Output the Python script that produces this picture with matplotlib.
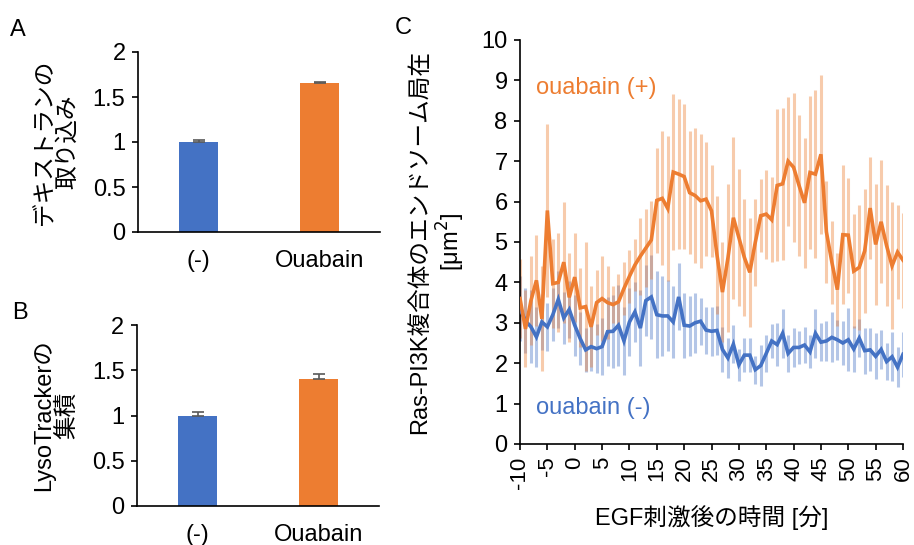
import matplotlib
matplotlib.use("Agg")
import matplotlib.pyplot as plt
import numpy as np

plt.rcParams['font.family'] = ['Liberation Sans', 'Noto Sans CJK JP', 'DejaVu Sans']

BLUE = '#4472C4'
ORANGE = '#ED7D31'

# Panel A
cats = ['(-)', 'Ouabain']
dextran = [1.00, 1.66]
dextran_err = [0.02, 0.01]
# Panel B
lyso = [1.00, 1.40]
lyso_err = [0.035, 0.06]

# Panel C
time_min = list(range(-10, 61))
ouabain_plus = [3.6, 2.85, 3.55, 4.05, 3.1, 5.78, 3.97, 4.0, 4.5, 3.63,
                4.13, 3.37, 3.4, 2.9, 3.5, 3.6, 3.5, 3.45, 3.52, 3.85,
                4.15, 4.43, 4.65, 4.85, 5.05, 6.03, 6.08, 5.83, 6.73, 6.68,
                6.62, 6.22, 6.15, 6.02, 6.06, 5.77, 4.68, 3.76, 4.6, 5.6,
                5.11, 4.62, 4.25, 4.99, 5.65, 5.69, 5.55, 6.4, 6.44, 7.0,
                6.85, 6.4, 5.97, 6.72, 6.68, 7.17, 5.25, 4.5, 3.82, 5.18,
                5.17, 4.28, 4.37, 4.78, 5.84, 4.94, 5.5, 4.91, 4.41, 4.75,
                4.55]
ouabain_plus_err = [0.98, 0.95, 1.1, 1.12, 1.3, 2.15, 1.1, 1.22, 1.5, 1.1,
                    1.1, 0.98, 1.6, 1.0, 0.8, 1.06, 0.9, 0.45, 0.68, 0.65,
                    0.65, 0.64, 0.95, 0.96, 0.96, 1.3, 1.66, 1.79, 1.94, 1.86,
                    1.8, 1.52, 1.67, 1.66, 1.41, 1.14, 1.46, 1.23, 1.83, 2.0,
                    1.7, 1.45, 1.35, 1.07, 0.9, 1.1, 1.05, 1.88, 1.88, 1.6,
                    1.84, 1.75, 1.61, 1.9, 2.07, 1.97, 1.26, 1.03, 0.9, 1.72,
                    1.42, 1.41, 1.55, 1.53, 1.27, 1.5, 1.52, 1.49, 1.57, 1.16,
                    1.18]
ouabain_minus = [3.35, 3.05, 2.9, 2.65, 3.02, 2.9, 3.2, 3.58, 3.12, 3.33,
                 2.94, 2.61, 2.33, 2.41, 2.36, 2.41, 2.78, 2.79, 2.94, 2.55,
                 3.02, 3.27, 2.87, 3.55, 3.64, 3.2, 3.17, 3.17, 3.02, 3.64,
                 2.94, 2.92, 3.0, 3.04, 2.82, 2.79, 2.81, 2.34, 2.13, 2.47,
                 1.96, 2.2, 2.2, 1.84, 1.94, 2.24, 2.55, 2.46, 2.74, 2.24,
                 2.39, 2.39, 2.45, 2.28, 2.74, 2.52, 2.55, 2.64, 2.58, 2.5,
                 2.58, 2.35, 2.62, 2.31, 2.33, 2.17, 2.34, 2.04, 2.16, 1.9,
                 2.22]
ouabain_minus_err = [0.8, 0.8, 0.9, 0.75, 0.7, 0.6, 0.65, 0.7, 0.65, 0.7,
                     0.75, 0.65, 0.55, 0.6, 0.6, 0.7, 0.85, 0.9, 1.0, 0.85,
                     0.85, 0.75, 0.95, 0.87, 1.03, 1.07, 1.0, 0.88, 0.89, 0.83,
                     0.8, 0.75, 0.74, 0.58, 0.58, 0.6, 0.6, 0.55, 0.5, 0.47,
                     0.39, 0.43, 0.43, 0.35, 0.5, 0.45, 0.42, 0.53, 0.6, 0.47,
                     0.49, 0.41, 0.45, 0.41, 0.6, 0.47, 0.5, 0.62, 0.49, 0.55,
                     0.78, 0.57, 0.47, 0.57, 0.53, 0.57, 0.49, 0.45, 0.6, 0.49,
                     0.55]
xticks_c = list(range(-10, 61, 5))

W, H = 914, 545
fig = plt.figure(figsize=(W / 100, H / 100), dpi=100)

def axbox(l, r, t, b):
    return [l / W, (H - b) / H, (r - l) / W, (b - t) / H]

FS = 17

def style_bar_axes(ax):
    for s in ['top', 'right']:
        ax.spines[s].set_visible(False)
    ax.spines['left'].set_linewidth(1.2)
    ax.spines['bottom'].set_linewidth(1.2)
    ax.tick_params(axis='y', direction='out', length=4, width=1.2, labelsize=FS, pad=5)
    ax.tick_params(axis='x', length=0, labelsize=FS, pad=13)

def bar_panel(rect, vals, errs, ylabel, letter, letter_xy, lpad):
    ax = fig.add_axes(rect)
    x = np.arange(len(cats))
    ax.bar(x, vals, width=0.32, color=[BLUE, ORANGE], zorder=2)
    ax.errorbar(x, vals, yerr=[[0, 0], errs], fmt='none', ecolor='#595959',
                elinewidth=1.2, capsize=4, capthick=1.2, zorder=3)
    ax.set_xlim(-0.5, 1.5)
    ax.set_ylim(0, 2)
    ax.set_yticks([0, 0.5, 1, 1.5, 2])
    ax.set_yticklabels(['0', '0.5', '1', '1.5', '2'])
    ax.set_xticks(x)
    ax.set_xticklabels(cats)
    style_bar_axes(ax)
    ax.set_ylabel(ylabel, fontsize=FS, linespacing=1.05, labelpad=lpad)
    fig.text(letter_xy[0] / W, 1 - letter_xy[1] / H, letter, fontsize=FS,
             ha='center', va='center')
    return ax

bar_panel(axbox(138, 380, 52, 232), dextran, dextran_err,
          'デキストランの\n取り込み', 'A', (18, 30), 10)
bar_panel(axbox(137, 379, 325, 506), lyso, lyso_err,
          'LysoTrackerの\n集積', 'B', (20, 313), 10)

# Panel C
axc = fig.add_axes(axbox(520, 903, 40, 444))
axc.errorbar(time_min, ouabain_minus, yerr=ouabain_minus_err, fmt='none',
             ecolor=(68 / 255, 114 / 255, 196 / 255, 0.4), elinewidth=2.2,
             capsize=0, zorder=1)
axc.errorbar(time_min, ouabain_plus, yerr=ouabain_plus_err, fmt='none',
             ecolor=(237 / 255, 125 / 255, 49 / 255, 0.4), elinewidth=2.2,
             capsize=0, zorder=1)
axc.plot(time_min, ouabain_minus, color=BLUE, lw=2.6, zorder=3,
         solid_joinstyle='miter')
axc.plot(time_min, ouabain_plus, color=ORANGE, lw=2.6, zorder=4,
         solid_joinstyle='miter')
axc.set_xlim(-10, 60)
axc.set_ylim(0, 10)
axc.set_yticks(range(0, 11))
axc.set_xticks(xticks_c)
axc.set_xticklabels([str(v) for v in xticks_c], rotation=90)
for s in ['top', 'right']:
    axc.spines[s].set_visible(False)
axc.spines['left'].set_linewidth(1.2)
axc.spines['bottom'].set_linewidth(1.2)
axc.tick_params(axis='y', direction='out', length=4, width=1.2,
                labelsize=FS, pad=5)
axc.tick_params(axis='x', direction='out', length=4, width=1.2,
                labelsize=16, pad=5)
axc.set_ylabel('Ras-PI3K複合体のエンドソーム局在\n[μm$^2$]', fontsize=FS,
               linespacing=1.15, labelpad=10)
axc.set_xlabel('EGF刺激後の時間 [分]', fontsize=FS, labelpad=12)
axc.text(-7.0, 8.81, 'ouabain (+)', color=ORANGE, fontsize=FS, va='center', ha='left')
axc.text(-7.0, 0.89, 'ouabain (-)', color=BLUE, fontsize=FS, va='center', ha='left')
fig.text(403 / W, 1 - 28 / H, 'C', fontsize=FS, ha='center', va='center')

fig.savefig('out.png', dpi=100)
